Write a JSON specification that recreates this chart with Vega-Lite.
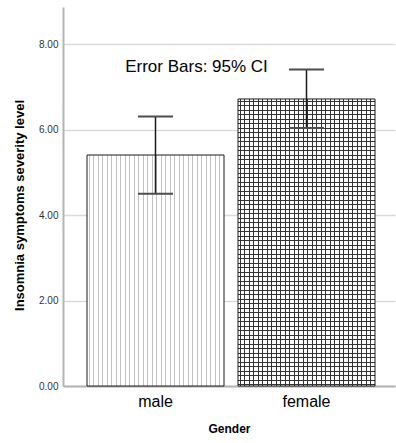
{
  "$schema": "https://vega.github.io/schema/vega-lite/v6.json",
  "width": 332,
  "height": 379,
  "autosize": {"type": "none"},
  "padding": {"left": 63, "top": 7, "right": 1, "bottom": 57},
  "background": "white",
  "config": {
    "view": {"stroke": null},
    "font": "Liberation Sans",
    "axis": {"labelFont": "Liberation Sans", "titleFont": "Liberation Sans"}
  },
  "data": {
    "values": [
      {"gender": "male", "mean": 5.4062, "lo": 4.50, "hi": 6.31},
      {"gender": "female", "mean": 6.7169, "lo": 6.04, "hi": 7.41}
    ]
  },
  "encoding": {
    "x": {
      "field": "gender",
      "type": "nominal",
      "sort": ["male", "female"],
      "title": "Gender",
      "scale": {"paddingInner": 0.095, "paddingOuter": 0.14, "align": 0.55, "round": true},
      "axis": {
        "labelAngle": 0,
        "labelFontSize": 16,
        "labelColor": "#000000",
        "labelPadding": 7,
        "ticks": false,
        "domainColor": "#b3b3b3",
        "domainWidth": 2,
        "grid": false,
        "titleFontSize": 12,
        "titleFontWeight": "bold",
        "titleColor": "#000000",
        "titlePadding": 14
      }
    }
  },
  "layer": [
    {
      "mark": {"type": "bar", "fill": "white", "stroke": null},
      "encoding": {
        "y": {
          "field": "mean",
          "type": "quantitative",
          "title": "Insomnia symptoms severity level",
          "scale": {"domain": [0, 8.87], "nice": false, "zero": true},
          "axis": {
            "values": [0, 2, 4, 6, 8],
            "format": ".2f",
            "grid": true,
            "gridColor": "#dadada",
            "gridWidth": 1.5,
            "domainColor": "#b3b3b3",
            "domainWidth": 2,
            "ticks": false,
            "labelFontSize": 10,
            "labelColor": "#333333",
            "labelPadding": 5,
            "titleFontSize": 13,
            "titleFontWeight": "bold",
            "titleColor": "#000000",
            "titlePadding": 12,
            "titleY": 198
          }
        }
      }
    },
    {
      "mark": {
        "type": "bar",
        "stroke": null,
        "fill": {
          "gradient": "linear",
          "x1": 0, "y1": 0, "x2": 1, "y2": 0,
          "stops": [
            {"offset": 0, "color": "rgba(51,51,51,0)"},
            {"offset": 0.01460, "color": "rgba(51,51,51,0)"}, {"offset": 0.01460, "color": "#333333"}, {"offset": 0.02190, "color": "#333333"}, {"offset": 0.02190, "color": "rgba(51,51,51,0)"},
            {"offset": 0.04380, "color": "rgba(51,51,51,0)"}, {"offset": 0.04380, "color": "#333333"}, {"offset": 0.05109, "color": "#333333"}, {"offset": 0.05109, "color": "rgba(51,51,51,0)"},
            {"offset": 0.08029, "color": "rgba(51,51,51,0)"}, {"offset": 0.08029, "color": "#333333"}, {"offset": 0.08759, "color": "#333333"}, {"offset": 0.08759, "color": "rgba(51,51,51,0)"},
            {"offset": 0.10949, "color": "rgba(51,51,51,0)"}, {"offset": 0.10949, "color": "#333333"}, {"offset": 0.11679, "color": "#333333"}, {"offset": 0.11679, "color": "rgba(51,51,51,0)"},
            {"offset": 0.14599, "color": "rgba(51,51,51,0)"}, {"offset": 0.14599, "color": "#333333"}, {"offset": 0.15328, "color": "#333333"}, {"offset": 0.15328, "color": "rgba(51,51,51,0)"},
            {"offset": 0.17518, "color": "rgba(51,51,51,0)"}, {"offset": 0.17518, "color": "#333333"}, {"offset": 0.18248, "color": "#333333"}, {"offset": 0.18248, "color": "rgba(51,51,51,0)"},
            {"offset": 0.21168, "color": "rgba(51,51,51,0)"}, {"offset": 0.21168, "color": "#333333"}, {"offset": 0.21898, "color": "#333333"}, {"offset": 0.21898, "color": "rgba(51,51,51,0)"},
            {"offset": 0.24088, "color": "rgba(51,51,51,0)"}, {"offset": 0.24088, "color": "#333333"}, {"offset": 0.24818, "color": "#333333"}, {"offset": 0.24818, "color": "rgba(51,51,51,0)"},
            {"offset": 0.27737, "color": "rgba(51,51,51,0)"}, {"offset": 0.27737, "color": "#333333"}, {"offset": 0.28467, "color": "#333333"}, {"offset": 0.28467, "color": "rgba(51,51,51,0)"},
            {"offset": 0.30657, "color": "rgba(51,51,51,0)"}, {"offset": 0.30657, "color": "#333333"}, {"offset": 0.31387, "color": "#333333"}, {"offset": 0.31387, "color": "rgba(51,51,51,0)"},
            {"offset": 0.34307, "color": "rgba(51,51,51,0)"}, {"offset": 0.34307, "color": "#333333"}, {"offset": 0.35036, "color": "#333333"}, {"offset": 0.35036, "color": "rgba(51,51,51,0)"},
            {"offset": 0.37226, "color": "rgba(51,51,51,0)"}, {"offset": 0.37226, "color": "#333333"}, {"offset": 0.37956, "color": "#333333"}, {"offset": 0.37956, "color": "rgba(51,51,51,0)"},
            {"offset": 0.40876, "color": "rgba(51,51,51,0)"}, {"offset": 0.40876, "color": "#333333"}, {"offset": 0.41606, "color": "#333333"}, {"offset": 0.41606, "color": "rgba(51,51,51,0)"},
            {"offset": 0.43796, "color": "rgba(51,51,51,0)"}, {"offset": 0.43796, "color": "#333333"}, {"offset": 0.44526, "color": "#333333"}, {"offset": 0.44526, "color": "rgba(51,51,51,0)"},
            {"offset": 0.47445, "color": "rgba(51,51,51,0)"}, {"offset": 0.47445, "color": "#333333"}, {"offset": 0.48175, "color": "#333333"}, {"offset": 0.48175, "color": "rgba(51,51,51,0)"},
            {"offset": 0.50365, "color": "rgba(51,51,51,0)"}, {"offset": 0.50365, "color": "#333333"}, {"offset": 0.51095, "color": "#333333"}, {"offset": 0.51095, "color": "rgba(51,51,51,0)"},
            {"offset": 0.54015, "color": "rgba(51,51,51,0)"}, {"offset": 0.54015, "color": "#333333"}, {"offset": 0.54745, "color": "#333333"}, {"offset": 0.54745, "color": "rgba(51,51,51,0)"},
            {"offset": 0.56934, "color": "rgba(51,51,51,0)"}, {"offset": 0.56934, "color": "#333333"}, {"offset": 0.57664, "color": "#333333"}, {"offset": 0.57664, "color": "rgba(51,51,51,0)"},
            {"offset": 0.60584, "color": "rgba(51,51,51,0)"}, {"offset": 0.60584, "color": "#333333"}, {"offset": 0.61314, "color": "#333333"}, {"offset": 0.61314, "color": "rgba(51,51,51,0)"},
            {"offset": 0.63504, "color": "rgba(51,51,51,0)"}, {"offset": 0.63504, "color": "#333333"}, {"offset": 0.64234, "color": "#333333"}, {"offset": 0.64234, "color": "rgba(51,51,51,0)"},
            {"offset": 0.67153, "color": "rgba(51,51,51,0)"}, {"offset": 0.67153, "color": "#333333"}, {"offset": 0.67883, "color": "#333333"}, {"offset": 0.67883, "color": "rgba(51,51,51,0)"},
            {"offset": 0.70073, "color": "rgba(51,51,51,0)"}, {"offset": 0.70073, "color": "#333333"}, {"offset": 0.70803, "color": "#333333"}, {"offset": 0.70803, "color": "rgba(51,51,51,0)"},
            {"offset": 0.73723, "color": "rgba(51,51,51,0)"}, {"offset": 0.73723, "color": "#333333"}, {"offset": 0.74453, "color": "#333333"}, {"offset": 0.74453, "color": "rgba(51,51,51,0)"},
            {"offset": 0.76642, "color": "rgba(51,51,51,0)"}, {"offset": 0.76642, "color": "#333333"}, {"offset": 0.77372, "color": "#333333"}, {"offset": 0.77372, "color": "rgba(51,51,51,0)"},
            {"offset": 0.80292, "color": "rgba(51,51,51,0)"}, {"offset": 0.80292, "color": "#333333"}, {"offset": 0.81022, "color": "#333333"}, {"offset": 0.81022, "color": "rgba(51,51,51,0)"},
            {"offset": 0.83212, "color": "rgba(51,51,51,0)"}, {"offset": 0.83212, "color": "#333333"}, {"offset": 0.83942, "color": "#333333"}, {"offset": 0.83942, "color": "rgba(51,51,51,0)"},
            {"offset": 0.86861, "color": "rgba(51,51,51,0)"}, {"offset": 0.86861, "color": "#333333"}, {"offset": 0.87591, "color": "#333333"}, {"offset": 0.87591, "color": "rgba(51,51,51,0)"},
            {"offset": 0.89781, "color": "rgba(51,51,51,0)"}, {"offset": 0.89781, "color": "#333333"}, {"offset": 0.90511, "color": "#333333"}, {"offset": 0.90511, "color": "rgba(51,51,51,0)"},
            {"offset": 0.93431, "color": "rgba(51,51,51,0)"}, {"offset": 0.93431, "color": "#333333"}, {"offset": 0.94161, "color": "#333333"}, {"offset": 0.94161, "color": "rgba(51,51,51,0)"},
            {"offset": 0.96350, "color": "rgba(51,51,51,0)"}, {"offset": 0.96350, "color": "#333333"}, {"offset": 0.97080, "color": "#333333"}, {"offset": 0.97080, "color": "rgba(51,51,51,0)"},
            {"offset": 1, "color": "rgba(51,51,51,0)"}
          ]
        }
      },
      "encoding": {
        "y": {"field": "mean", "type": "quantitative", "title": "Insomnia symptoms severity level"},
        "opacity": {"condition": {"test": "datum.gender === 'male'", "value": 0.3}, "value": 1}
      }
    },
    {
      "transform": [{"filter": "datum.gender === 'female'"}],
      "mark": {
        "type": "bar",
        "stroke": null,
        "fill": {
          "gradient": "linear",
          "x1": 0, "y1": 0, "x2": 0, "y2": 1,
          "stops": [
            {"offset": 0, "color": "rgba(51,51,51,0)"},
            {"offset": 0.00697, "color": "rgba(51,51,51,0)"}, {"offset": 0.00697, "color": "#333333"}, {"offset": 0.01045, "color": "#333333"}, {"offset": 0.01045, "color": "rgba(51,51,51,0)"},
            {"offset": 0.02091, "color": "rgba(51,51,51,0)"}, {"offset": 0.02091, "color": "#333333"}, {"offset": 0.02439, "color": "#333333"}, {"offset": 0.02439, "color": "rgba(51,51,51,0)"},
            {"offset": 0.03833, "color": "rgba(51,51,51,0)"}, {"offset": 0.03833, "color": "#333333"}, {"offset": 0.04181, "color": "#333333"}, {"offset": 0.04181, "color": "rgba(51,51,51,0)"},
            {"offset": 0.05226, "color": "rgba(51,51,51,0)"}, {"offset": 0.05226, "color": "#333333"}, {"offset": 0.05575, "color": "#333333"}, {"offset": 0.05575, "color": "rgba(51,51,51,0)"},
            {"offset": 0.06969, "color": "rgba(51,51,51,0)"}, {"offset": 0.06969, "color": "#333333"}, {"offset": 0.07317, "color": "#333333"}, {"offset": 0.07317, "color": "rgba(51,51,51,0)"},
            {"offset": 0.08362, "color": "rgba(51,51,51,0)"}, {"offset": 0.08362, "color": "#333333"}, {"offset": 0.08711, "color": "#333333"}, {"offset": 0.08711, "color": "rgba(51,51,51,0)"},
            {"offset": 0.10105, "color": "rgba(51,51,51,0)"}, {"offset": 0.10105, "color": "#333333"}, {"offset": 0.10453, "color": "#333333"}, {"offset": 0.10453, "color": "rgba(51,51,51,0)"},
            {"offset": 0.11498, "color": "rgba(51,51,51,0)"}, {"offset": 0.11498, "color": "#333333"}, {"offset": 0.11847, "color": "#333333"}, {"offset": 0.11847, "color": "rgba(51,51,51,0)"},
            {"offset": 0.13240, "color": "rgba(51,51,51,0)"}, {"offset": 0.13240, "color": "#333333"}, {"offset": 0.13589, "color": "#333333"}, {"offset": 0.13589, "color": "rgba(51,51,51,0)"},
            {"offset": 0.14634, "color": "rgba(51,51,51,0)"}, {"offset": 0.14634, "color": "#333333"}, {"offset": 0.14983, "color": "#333333"}, {"offset": 0.14983, "color": "rgba(51,51,51,0)"},
            {"offset": 0.16376, "color": "rgba(51,51,51,0)"}, {"offset": 0.16376, "color": "#333333"}, {"offset": 0.16725, "color": "#333333"}, {"offset": 0.16725, "color": "rgba(51,51,51,0)"},
            {"offset": 0.17770, "color": "rgba(51,51,51,0)"}, {"offset": 0.17770, "color": "#333333"}, {"offset": 0.18118, "color": "#333333"}, {"offset": 0.18118, "color": "rgba(51,51,51,0)"},
            {"offset": 0.19512, "color": "rgba(51,51,51,0)"}, {"offset": 0.19512, "color": "#333333"}, {"offset": 0.19861, "color": "#333333"}, {"offset": 0.19861, "color": "rgba(51,51,51,0)"},
            {"offset": 0.20906, "color": "rgba(51,51,51,0)"}, {"offset": 0.20906, "color": "#333333"}, {"offset": 0.21254, "color": "#333333"}, {"offset": 0.21254, "color": "rgba(51,51,51,0)"},
            {"offset": 0.22648, "color": "rgba(51,51,51,0)"}, {"offset": 0.22648, "color": "#333333"}, {"offset": 0.22997, "color": "#333333"}, {"offset": 0.22997, "color": "rgba(51,51,51,0)"},
            {"offset": 0.24042, "color": "rgba(51,51,51,0)"}, {"offset": 0.24042, "color": "#333333"}, {"offset": 0.24390, "color": "#333333"}, {"offset": 0.24390, "color": "rgba(51,51,51,0)"},
            {"offset": 0.25784, "color": "rgba(51,51,51,0)"}, {"offset": 0.25784, "color": "#333333"}, {"offset": 0.26132, "color": "#333333"}, {"offset": 0.26132, "color": "rgba(51,51,51,0)"},
            {"offset": 0.27178, "color": "rgba(51,51,51,0)"}, {"offset": 0.27178, "color": "#333333"}, {"offset": 0.27526, "color": "#333333"}, {"offset": 0.27526, "color": "rgba(51,51,51,0)"},
            {"offset": 0.28920, "color": "rgba(51,51,51,0)"}, {"offset": 0.28920, "color": "#333333"}, {"offset": 0.29268, "color": "#333333"}, {"offset": 0.29268, "color": "rgba(51,51,51,0)"},
            {"offset": 0.30314, "color": "rgba(51,51,51,0)"}, {"offset": 0.30314, "color": "#333333"}, {"offset": 0.30662, "color": "#333333"}, {"offset": 0.30662, "color": "rgba(51,51,51,0)"},
            {"offset": 0.32056, "color": "rgba(51,51,51,0)"}, {"offset": 0.32056, "color": "#333333"}, {"offset": 0.32404, "color": "#333333"}, {"offset": 0.32404, "color": "rgba(51,51,51,0)"},
            {"offset": 0.33449, "color": "rgba(51,51,51,0)"}, {"offset": 0.33449, "color": "#333333"}, {"offset": 0.33798, "color": "#333333"}, {"offset": 0.33798, "color": "rgba(51,51,51,0)"},
            {"offset": 0.35192, "color": "rgba(51,51,51,0)"}, {"offset": 0.35192, "color": "#333333"}, {"offset": 0.35540, "color": "#333333"}, {"offset": 0.35540, "color": "rgba(51,51,51,0)"},
            {"offset": 0.36585, "color": "rgba(51,51,51,0)"}, {"offset": 0.36585, "color": "#333333"}, {"offset": 0.36934, "color": "#333333"}, {"offset": 0.36934, "color": "rgba(51,51,51,0)"},
            {"offset": 0.38328, "color": "rgba(51,51,51,0)"}, {"offset": 0.38328, "color": "#333333"}, {"offset": 0.38676, "color": "#333333"}, {"offset": 0.38676, "color": "rgba(51,51,51,0)"},
            {"offset": 0.39721, "color": "rgba(51,51,51,0)"}, {"offset": 0.39721, "color": "#333333"}, {"offset": 0.40070, "color": "#333333"}, {"offset": 0.40070, "color": "rgba(51,51,51,0)"},
            {"offset": 0.41463, "color": "rgba(51,51,51,0)"}, {"offset": 0.41463, "color": "#333333"}, {"offset": 0.41812, "color": "#333333"}, {"offset": 0.41812, "color": "rgba(51,51,51,0)"},
            {"offset": 0.42857, "color": "rgba(51,51,51,0)"}, {"offset": 0.42857, "color": "#333333"}, {"offset": 0.43206, "color": "#333333"}, {"offset": 0.43206, "color": "rgba(51,51,51,0)"},
            {"offset": 0.44599, "color": "rgba(51,51,51,0)"}, {"offset": 0.44599, "color": "#333333"}, {"offset": 0.44948, "color": "#333333"}, {"offset": 0.44948, "color": "rgba(51,51,51,0)"},
            {"offset": 0.45993, "color": "rgba(51,51,51,0)"}, {"offset": 0.45993, "color": "#333333"}, {"offset": 0.46341, "color": "#333333"}, {"offset": 0.46341, "color": "rgba(51,51,51,0)"},
            {"offset": 0.47735, "color": "rgba(51,51,51,0)"}, {"offset": 0.47735, "color": "#333333"}, {"offset": 0.48084, "color": "#333333"}, {"offset": 0.48084, "color": "rgba(51,51,51,0)"},
            {"offset": 0.49129, "color": "rgba(51,51,51,0)"}, {"offset": 0.49129, "color": "#333333"}, {"offset": 0.49477, "color": "#333333"}, {"offset": 0.49477, "color": "rgba(51,51,51,0)"},
            {"offset": 0.50871, "color": "rgba(51,51,51,0)"}, {"offset": 0.50871, "color": "#333333"}, {"offset": 0.51220, "color": "#333333"}, {"offset": 0.51220, "color": "rgba(51,51,51,0)"},
            {"offset": 0.52265, "color": "rgba(51,51,51,0)"}, {"offset": 0.52265, "color": "#333333"}, {"offset": 0.52613, "color": "#333333"}, {"offset": 0.52613, "color": "rgba(51,51,51,0)"},
            {"offset": 0.54007, "color": "rgba(51,51,51,0)"}, {"offset": 0.54007, "color": "#333333"}, {"offset": 0.54355, "color": "#333333"}, {"offset": 0.54355, "color": "rgba(51,51,51,0)"},
            {"offset": 0.55401, "color": "rgba(51,51,51,0)"}, {"offset": 0.55401, "color": "#333333"}, {"offset": 0.55749, "color": "#333333"}, {"offset": 0.55749, "color": "rgba(51,51,51,0)"},
            {"offset": 0.57143, "color": "rgba(51,51,51,0)"}, {"offset": 0.57143, "color": "#333333"}, {"offset": 0.57491, "color": "#333333"}, {"offset": 0.57491, "color": "rgba(51,51,51,0)"},
            {"offset": 0.58537, "color": "rgba(51,51,51,0)"}, {"offset": 0.58537, "color": "#333333"}, {"offset": 0.58885, "color": "#333333"}, {"offset": 0.58885, "color": "rgba(51,51,51,0)"},
            {"offset": 0.60279, "color": "rgba(51,51,51,0)"}, {"offset": 0.60279, "color": "#333333"}, {"offset": 0.60627, "color": "#333333"}, {"offset": 0.60627, "color": "rgba(51,51,51,0)"},
            {"offset": 0.61672, "color": "rgba(51,51,51,0)"}, {"offset": 0.61672, "color": "#333333"}, {"offset": 0.62021, "color": "#333333"}, {"offset": 0.62021, "color": "rgba(51,51,51,0)"},
            {"offset": 0.63415, "color": "rgba(51,51,51,0)"}, {"offset": 0.63415, "color": "#333333"}, {"offset": 0.63763, "color": "#333333"}, {"offset": 0.63763, "color": "rgba(51,51,51,0)"},
            {"offset": 0.64808, "color": "rgba(51,51,51,0)"}, {"offset": 0.64808, "color": "#333333"}, {"offset": 0.65157, "color": "#333333"}, {"offset": 0.65157, "color": "rgba(51,51,51,0)"},
            {"offset": 0.66551, "color": "rgba(51,51,51,0)"}, {"offset": 0.66551, "color": "#333333"}, {"offset": 0.66899, "color": "#333333"}, {"offset": 0.66899, "color": "rgba(51,51,51,0)"},
            {"offset": 0.67944, "color": "rgba(51,51,51,0)"}, {"offset": 0.67944, "color": "#333333"}, {"offset": 0.68293, "color": "#333333"}, {"offset": 0.68293, "color": "rgba(51,51,51,0)"},
            {"offset": 0.69686, "color": "rgba(51,51,51,0)"}, {"offset": 0.69686, "color": "#333333"}, {"offset": 0.70035, "color": "#333333"}, {"offset": 0.70035, "color": "rgba(51,51,51,0)"},
            {"offset": 0.71080, "color": "rgba(51,51,51,0)"}, {"offset": 0.71080, "color": "#333333"}, {"offset": 0.71429, "color": "#333333"}, {"offset": 0.71429, "color": "rgba(51,51,51,0)"},
            {"offset": 0.72822, "color": "rgba(51,51,51,0)"}, {"offset": 0.72822, "color": "#333333"}, {"offset": 0.73171, "color": "#333333"}, {"offset": 0.73171, "color": "rgba(51,51,51,0)"},
            {"offset": 0.74216, "color": "rgba(51,51,51,0)"}, {"offset": 0.74216, "color": "#333333"}, {"offset": 0.74564, "color": "#333333"}, {"offset": 0.74564, "color": "rgba(51,51,51,0)"},
            {"offset": 0.75958, "color": "rgba(51,51,51,0)"}, {"offset": 0.75958, "color": "#333333"}, {"offset": 0.76307, "color": "#333333"}, {"offset": 0.76307, "color": "rgba(51,51,51,0)"},
            {"offset": 0.77352, "color": "rgba(51,51,51,0)"}, {"offset": 0.77352, "color": "#333333"}, {"offset": 0.77700, "color": "#333333"}, {"offset": 0.77700, "color": "rgba(51,51,51,0)"},
            {"offset": 0.79094, "color": "rgba(51,51,51,0)"}, {"offset": 0.79094, "color": "#333333"}, {"offset": 0.79443, "color": "#333333"}, {"offset": 0.79443, "color": "rgba(51,51,51,0)"},
            {"offset": 0.80488, "color": "rgba(51,51,51,0)"}, {"offset": 0.80488, "color": "#333333"}, {"offset": 0.80836, "color": "#333333"}, {"offset": 0.80836, "color": "rgba(51,51,51,0)"},
            {"offset": 0.82230, "color": "rgba(51,51,51,0)"}, {"offset": 0.82230, "color": "#333333"}, {"offset": 0.82578, "color": "#333333"}, {"offset": 0.82578, "color": "rgba(51,51,51,0)"},
            {"offset": 0.83624, "color": "rgba(51,51,51,0)"}, {"offset": 0.83624, "color": "#333333"}, {"offset": 0.83972, "color": "#333333"}, {"offset": 0.83972, "color": "rgba(51,51,51,0)"},
            {"offset": 0.85366, "color": "rgba(51,51,51,0)"}, {"offset": 0.85366, "color": "#333333"}, {"offset": 0.85714, "color": "#333333"}, {"offset": 0.85714, "color": "rgba(51,51,51,0)"},
            {"offset": 0.86760, "color": "rgba(51,51,51,0)"}, {"offset": 0.86760, "color": "#333333"}, {"offset": 0.87108, "color": "#333333"}, {"offset": 0.87108, "color": "rgba(51,51,51,0)"},
            {"offset": 0.88502, "color": "rgba(51,51,51,0)"}, {"offset": 0.88502, "color": "#333333"}, {"offset": 0.88850, "color": "#333333"}, {"offset": 0.88850, "color": "rgba(51,51,51,0)"},
            {"offset": 0.89895, "color": "rgba(51,51,51,0)"}, {"offset": 0.89895, "color": "#333333"}, {"offset": 0.90244, "color": "#333333"}, {"offset": 0.90244, "color": "rgba(51,51,51,0)"},
            {"offset": 0.91638, "color": "rgba(51,51,51,0)"}, {"offset": 0.91638, "color": "#333333"}, {"offset": 0.91986, "color": "#333333"}, {"offset": 0.91986, "color": "rgba(51,51,51,0)"},
            {"offset": 0.93031, "color": "rgba(51,51,51,0)"}, {"offset": 0.93031, "color": "#333333"}, {"offset": 0.93380, "color": "#333333"}, {"offset": 0.93380, "color": "rgba(51,51,51,0)"},
            {"offset": 0.94774, "color": "rgba(51,51,51,0)"}, {"offset": 0.94774, "color": "#333333"}, {"offset": 0.95122, "color": "#333333"}, {"offset": 0.95122, "color": "rgba(51,51,51,0)"},
            {"offset": 0.96167, "color": "rgba(51,51,51,0)"}, {"offset": 0.96167, "color": "#333333"}, {"offset": 0.96516, "color": "#333333"}, {"offset": 0.96516, "color": "rgba(51,51,51,0)"},
            {"offset": 0.97909, "color": "rgba(51,51,51,0)"}, {"offset": 0.97909, "color": "#333333"}, {"offset": 0.98258, "color": "#333333"}, {"offset": 0.98258, "color": "rgba(51,51,51,0)"},
            {"offset": 0.99303, "color": "rgba(51,51,51,0)"}, {"offset": 0.99303, "color": "#333333"}, {"offset": 0.99652, "color": "#333333"}, {"offset": 0.99652, "color": "rgba(51,51,51,0)"},
            {"offset": 1, "color": "rgba(51,51,51,0)"}
          ]
        }
      },
      "encoding": {
        "y": {"field": "mean", "type": "quantitative", "title": "Insomnia symptoms severity level"}
      }
    },
    {
      "mark": {"type": "bar", "fill": null, "fillOpacity": 0, "stroke": "#1a1a1a", "strokeWidth": 1},
      "encoding": {
        "y": {"field": "mean", "type": "quantitative", "title": "Insomnia symptoms severity level"}
      }
    },
    {
      "mark": {"type": "rule", "stroke": "#1a1a1a", "strokeWidth": 1.5},
      "encoding": {
        "y": {"field": "lo", "type": "quantitative", "title": "Insomnia symptoms severity level"},
        "y2": {"field": "hi"}
      }
    },
    {
      "mark": {"type": "tick", "size": 35, "thickness": 2, "color": "#4d4d4d", "opacity": 1},
      "encoding": {
        "y": {"field": "lo", "type": "quantitative", "title": "Insomnia symptoms severity level"}
      }
    },
    {
      "mark": {"type": "tick", "size": 35, "thickness": 2, "color": "#4d4d4d", "opacity": 1},
      "encoding": {
        "y": {"field": "hi", "type": "quantitative", "title": "Insomnia symptoms severity level"}
      }
    },
    {
      "data": {"values": [{"gender": "male", "label": "Error Bars: 95% CI", "pos": 7.47}]},
      "mark": {"type": "text", "fontSize": 17, "font": "Liberation Sans", "color": "#000000", "align": "center", "baseline": "middle", "dx": 41},
      "encoding": {
        "y": {"field": "pos", "type": "quantitative", "title": "Insomnia symptoms severity level"},
        "text": {"field": "label"}
      }
    }
  ]
}
